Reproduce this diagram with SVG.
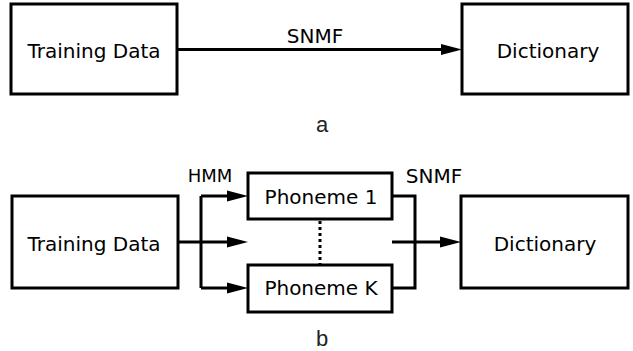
<svg xmlns="http://www.w3.org/2000/svg" width="633" height="351" viewBox="0 0 633 351">
<style>
.box{fill:#fff;stroke:#000;stroke-width:3}
.lbl{font-family:"DejaVu Sans",Verdana,sans-serif;font-size:20px;fill:#000}
.small{font-size:18px}
.cap{font-family:"Liberation Sans",Arial,sans-serif;font-size:22px;fill:#222}
.ln{fill:none;stroke:#000;stroke-width:3}
.ah{fill:#000}
</style>
<rect width="633" height="351" fill="#fff"/>
<g id="connectors">
<line class="ln" x1="177" y1="49.5" x2="445" y2="49.5"/>
<polygon class="ah" points="441,44 462,49.5 441,55"/>
<path class="ln" d="M177,242 H232 M201,196 V288 M201,196 H232 M201,288 H232"/>
<polygon class="ah" points="227,190.5 248,196 227,201.5"/>
<polygon class="ah" points="227,236.5 248,242 227,247.5"/>
<polygon class="ah" points="227,282.5 248,288 227,293.5"/>
<path class="ln" d="M392,196 H415 V288 H392 M392,242 H445"/>
<polygon class="ah" points="440,236.5 461,242 440,247.5"/>
<line x1="320" y1="221" x2="320" y2="264" stroke="#000" stroke-width="3" stroke-dasharray="3,3"/>
<text class="lbl" x="315" y="43" text-anchor="middle">SNMF</text>
<text class="lbl small" x="210" y="182" text-anchor="middle">HMM</text>
<text class="lbl" x="434" y="183" text-anchor="middle">SNMF</text>
</g>
<g id="train-a"><rect class="box" x="11" y="4" width="166" height="90"/><text class="lbl" x="94" y="58" text-anchor="middle">Training Data</text></g>
<g id="dict-a"><rect class="box" x="462" y="4" width="166" height="90"/><text class="lbl" x="548" y="58" text-anchor="middle">Dictionary</text></g>
<g id="caption-a"><text class="cap" x="322" y="132" text-anchor="middle">a</text></g>
<g id="train-b"><rect class="box" x="12" y="196" width="166" height="92"/><text class="lbl" x="94" y="251" text-anchor="middle">Training Data</text></g>
<g id="phon1"><rect class="box" x="248" y="173" width="144" height="46"/><text class="lbl" x="321" y="204" text-anchor="middle">Phoneme 1</text></g>
<g id="phonK"><rect class="box" x="248" y="265" width="144" height="47"/><text class="lbl" x="321" y="295" text-anchor="middle">Phoneme K</text></g>
<g id="dict-b"><rect class="box" x="461" y="196" width="167" height="92"/><text class="lbl" x="545" y="251" text-anchor="middle">Dictionary</text></g>
<g id="caption-b"><text class="cap" x="322" y="346" text-anchor="middle">b</text></g>
</svg>
